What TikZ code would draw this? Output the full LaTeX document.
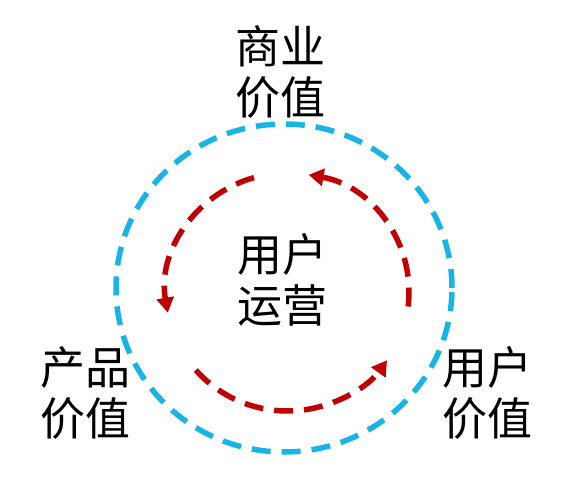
\documentclass[tikz,border=0pt]{standalone}
\usepackage{fontspec}
\setmainfont{Noto Sans CJK SC}
\usetikzlibrary{arrows.meta,calc}
\definecolor{ringblue}{HTML}{19B4E6}
\definecolor{loopred}{HTML}{C00000}
\begin{document}
\begin{tikzpicture}[x=1pt,y=1pt,
  lbl/.style={align=center,inner sep=0pt,font=\fontsize{45}{51}\selectfont},
  ring/.style={ringblue,line width=5.5pt,dash pattern=on 19pt off 11pt},
  loop/.style={loopred,line width=5.5pt,dash pattern=on 19pt off 11pt,
    -{Triangle[length=15pt,width=17pt]}}]
\useasboundingbox (0,0) rectangle (571,-481);
\coordinate (O) at (284,-288);
\coordinate (I) at (287.5,-292);
\draw[ring] (O) ellipse[x radius=168,y radius=164];
\draw[loop] ($(I)+(106:121.5 and 119)$) arc[start angle=106,end angle=190,x radius=121.5,y radius=119];
\draw[loop] ($(I)+(-7:121.5 and 119)$) arc[start angle=-7,end angle=80,x radius=121.5,y radius=119];
\draw[loop] ($(I)+(221:121.5 and 119)$) arc[start angle=221,end angle=325,x radius=121.5,y radius=119];
\node[lbl] (biz) at (280,-72) {商业\\价值};
\node[lbl] (ops) at (282,-280) {用户\\运营};
\node[lbl] (prod) at (86,-393) {产品\\价值};
\node[lbl] (user) at (487,-393) {用户\\价值};
\end{tikzpicture}
\end{document}
